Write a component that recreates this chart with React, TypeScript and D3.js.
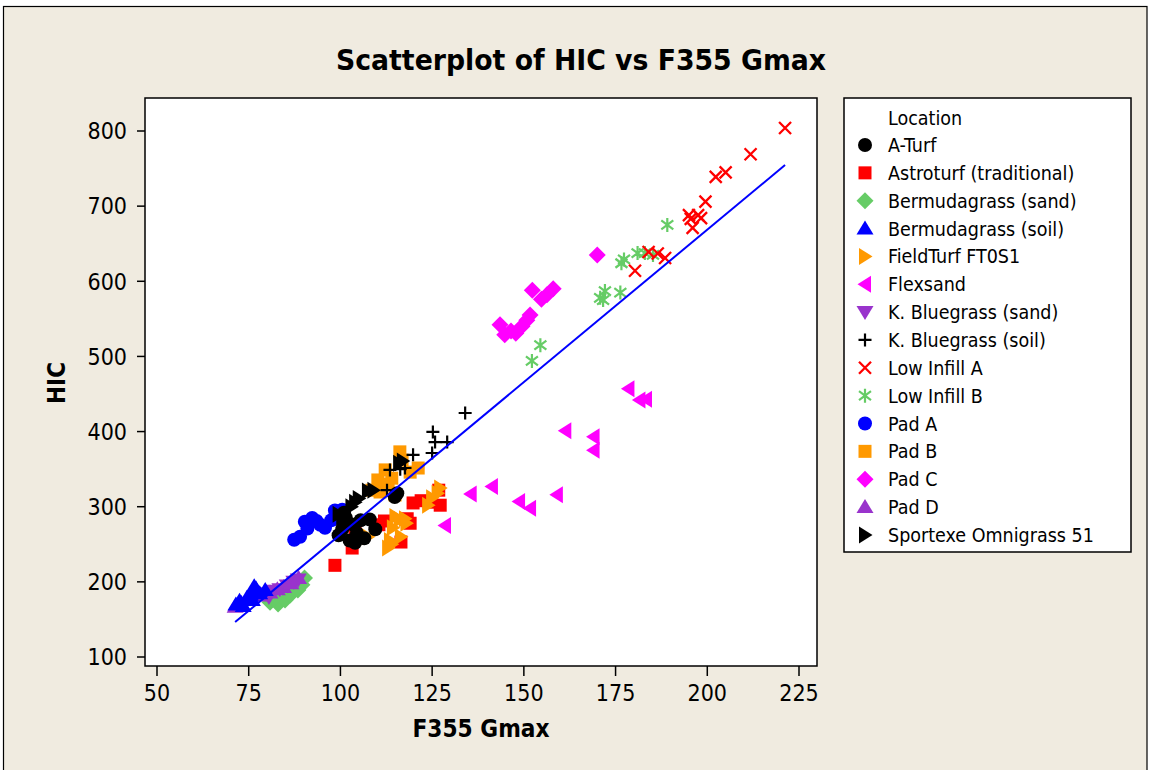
import React from 'react';
import * as d3 from 'd3';

const W = 1150;
const H = 770;

const xTicks = [50, 75, 100, 125, 150, 175, 200, 225];
const yTicks = [100, 200, 300, 400, 500, 600, 700, 800];

// [F355 Gmax, HIC]
const aTurf = [[99.5, 262], [100.5, 270], [101.5, 285], [102.5, 255], [103.5, 276], [104.5, 265], [105.5, 282], [106.5, 258], [108, 283], [109.5, 270], [114.8, 313], [115.5, 318], [101, 292], [104, 252]];
const astroturf = [[98.5, 222], [103.2, 245], [104, 270], [110.5, 276], [112, 281], [116.5, 253], [118.2, 284], [119.8, 305], [122, 308], [124.2, 306], [127.2, 302], [126.8, 322], [119, 278]];
const bermSand = [[80.8, 173], [83, 170.5], [84.9, 176], [86.3, 182.5], [88.4, 189], [89.5, 196], [90.2, 205], [82, 178]];
const bermSoil = [[71.5, 170], [72.5, 175], [73.5, 168], [74.5, 179], [75.5, 183], [76, 176], [77, 191], [78, 185], [79.5, 189], [76.5, 194], [73, 172]];
const fieldTurf = [[107.5, 260], [113, 245], [113.5, 255], [114.3, 272], [115, 287], [116.2, 283], [117.6, 284], [118, 278], [123.9, 302], [125, 312], [127.2, 325], [126.5, 318], [114, 250], [116.5, 260]];
const flexsand = [[128.5, 275], [135.5, 317], [141.3, 327], [148.7, 307], [151.7, 298], [159, 316], [161.3, 401], [169, 393], [169, 375], [178.5, 457], [181.5, 442], [183.3, 443]];
const kbSand = [[79.5, 185], [81.5, 188], [83.5, 190], [85.5, 195], [87.3, 200], [88.5, 203], [80.5, 180]];
const kbSoil = [[112.7, 322], [113.5, 349], [117.6, 351.5], [119.8, 369], [125, 371.5], [125.2, 399.5], [125.8, 386], [129.1, 386], [134, 424.7], [116.3, 350]];
const lowA = [[180.3, 614], [184, 639], [186.5, 637], [188.5, 631], [195, 688], [195.5, 683], [196, 671], [197.5, 688], [198.3, 684], [199.5, 706], [202.3, 739], [205, 745], [211.8, 769], [221.2, 804]];
const lowB = [[152.2, 494], [154.5, 515], [170.8, 578], [171.6, 575], [172.1, 587], [176.3, 585], [176.6, 624], [177.3, 629], [181, 637.5], [183, 637.5], [185.2, 635], [189.1, 675]];
const padA = [[87.4, 256], [89, 260], [90.3, 280], [91, 271], [92.3, 285], [93.5, 281], [94.5, 276], [95.8, 272], [97.5, 282], [98.5, 295], [99.5, 289], [100.5, 296]];
const padB = [[116.2, 373], [121.2, 351.5], [112.2, 349], [110.2, 335.6], [114, 338], [108.6, 322], [114.9, 315.6], [119, 346], [116.8, 362], [110.8, 319.6], [113, 330]];
const padC = [[170, 635], [143.5, 542], [144.8, 529], [146.5, 534], [147.8, 531], [149.5, 540], [150.8, 548], [151.7, 555], [152.3, 588], [154.8, 576], [156.3, 582], [158, 590]];
const padD = [[71.3, 167], [78.8, 182], [80.8, 186], [82.8, 190], [84.5, 193], [86.5, 198], [88.6, 205]];
const sportexe = [[99.5, 290], [100.5, 282], [101.5, 276], [103, 300], [104, 306], [105, 311], [107.5, 321], [109, 322], [116, 358], [117, 361]];

// regression: HIC = intercept + slope * Gmax
const fitCoef = [-142.7, 4.057];
const fitRange = [71.3, 221.2];

const legendNames = [
  'A-Turf', 'Astroturf (traditional)', 'Bermudagrass (sand)', 'Bermudagrass (soil)', 'FieldTurf FT0S1',
  'Flexsand', 'K. Bluegrass (sand)', 'K. Bluegrass (soil)', 'Low Infill A', 'Low Infill B',
  'Pad A', 'Pad B', 'Pad C', 'Pad D', 'Sportexe Omnigrass 51'];

type Shape = 'circle' | 'square' | 'diamond' | 'up' | 'down' | 'right' | 'left' | 'plus' | 'x' | 'star';
const styles: { shape: Shape; color: string }[] = [
  { shape: 'circle', color: '#000000' },
  { shape: 'square', color: '#FF0000' },
  { shape: 'diamond', color: '#66CC66' },
  { shape: 'up', color: '#0000FF' },
  { shape: 'right', color: '#FF9900' },
  { shape: 'left', color: '#FF00FF' },
  { shape: 'down', color: '#9933CC' },
  { shape: 'plus', color: '#000000' },
  { shape: 'x', color: '#FF0000' },
  { shape: 'star', color: '#66CC66' },
  { shape: 'circle', color: '#0000FF' },
  { shape: 'square', color: '#FF9900' },
  { shape: 'diamond', color: '#FF00FF' },
  { shape: 'up', color: '#9933CC' },
  { shape: 'right', color: '#000000' },
];
const seriesData = [aTurf, astroturf, bermSand, bermSoil, fieldTurf, flexsand, kbSand, kbSoil, lowA, lowB, padA, padB, padC, padD, sportexe];
// drawing order (index into series)
const drawOrder = [2, 6, 13, 3, 10, 11, 1, 4, 0, 14, 7, 5, 12, 9, 8];

const FONT = "'DejaVu Sans Condensed', 'DejaVu Sans', sans-serif";

function Marker({ shape, color, x, y }: { shape: Shape; color: string; x: number; y: number }) {
  const t = `translate(${x},${y})`;
  switch (shape) {
    case 'circle':
      return <circle cx={x} cy={y} r={7} fill={color} />;
    case 'square':
      return <path transform={t} d="M-6.5,-6.5H6.5V6.5H-6.5Z" fill={color} />;
    case 'diamond':
      return <path transform={t} d="M0,-8.5L8.5,0L0,8.5L-8.5,0Z" fill={color} />;
    case 'up':
      return <path transform={t} d="M0,-8L8.5,6L-8.5,6Z" fill={color} />;
    case 'down':
      return <path transform={t} d="M0,8L8.5,-6L-8.5,-6Z" fill={color} />;
    case 'right':
      return <path transform={t} d="M7.5,0L-6,-8.5L-6,8.5Z" fill={color} />;
    case 'left':
      return <path transform={t} d="M-7.5,0L6,-8.5L6,8.5Z" fill={color} />;
    case 'plus':
      return <path transform={t} d="M-6.5,0H6.5M0,-6.5V6.5" stroke={color} strokeWidth={2.2} fill="none" />;
    case 'x':
      return <path transform={t} d="M-6,-6L6,6M-6,6L6,-6" stroke={color} strokeWidth={2.3} fill="none" />;
    case 'star':
      return <path transform={t} d="M0,-7V7M-6,-4.5L6,4.5M-6,4.5L6,-4.5" stroke={color} strokeWidth={2.2} fill="none" />;
  }
  return null;
}

export default function App() {
  const plotL = 145, plotR = 817, plotT = 98, plotB = 666;
  const x = d3.scaleLinear().domain([50, 225]).range([157, 799]);
  const y = d3.scaleLinear().domain([100, 800]).range([657, 131]);
  const line = d3.line<number>().x(d => x(d)).y(d => y(fitCoef[0] + fitCoef[1] * d));

  const legL = 844, legT = 98, legR = 1131, legB = 552;
  const rowY = (i: number) => 145 + i * 27.85;

  return (
    <svg width={W} height={H} style={{ position: 'absolute', left: 0, top: 0 }} fontFamily={FONT}>
      <rect x={0} y={0} width={W} height={H} fill="#ffffff" />
      <rect x={3.5} y={6.5} width={1143.5} height={H} fill="#F0EBE0" stroke="#000" strokeWidth={1.2} />
      <text x={581} y={70} textAnchor="middle" fontSize={28} fontWeight="bold" fill="#000" textLength={490} lengthAdjust="spacingAndGlyphs">Scatterplot of HIC vs F355 Gmax</text>

      <rect x={plotL} y={plotT} width={plotR - plotL} height={plotB - plotT} fill="#fff" stroke="#000" strokeWidth={1.5} />

      {xTicks.map(t => (
        <g key={'xt' + t}>
          <line x1={x(t)} x2={x(t)} y1={plotB} y2={plotB + 10} stroke="#000" strokeWidth={1.5} />
          <text x={x(t)} y={701} textAnchor="middle" fontSize={23} fill="#000">{t}</text>
        </g>
      ))}
      {yTicks.map(t => (
        <g key={'yt' + t}>
          <line x1={plotL} x2={plotL - 8} y1={y(t)} y2={y(t)} stroke="#000" strokeWidth={1.5} />
          <text x={127} y={y(t)} dy="0.36em" textAnchor="end" fontSize={23} fill="#000">{t}</text>
        </g>
      ))}
      <text x={481} y={737} textAnchor="middle" fontSize={24} fontWeight="bold" fill="#000" textLength={137} lengthAdjust="spacingAndGlyphs">F355 Gmax</text>
      <text transform={`translate(65,383) rotate(-90)`} textAnchor="middle" fontSize={24} fontWeight="bold" fill="#000">HIC</text>

      <g>
        {drawOrder.map(si => (
          <g key={'s' + si}>
            {seriesData[si].map((d, j) => (
              <Marker key={j} shape={styles[si].shape} color={styles[si].color} x={x(d[0])} y={y(d[1])} />
            ))}
          </g>
        ))}
      </g>
      <path d={line(fitRange) || ''} stroke="#0000FF" strokeWidth={2} fill="none" />

      <rect x={legL} y={legT} width={legR - legL} height={legB - legT} fill="#fff" stroke="#000" strokeWidth={1.5} />
      <text x={888} y={118} dy="0.36em" fontSize={19.5} fill="#000">Location</text>
      {legendNames.map((n, i) => (
        <g key={'l' + i}>
          <Marker shape={styles[i].shape} color={styles[i].color} x={865} y={rowY(i)} />
          <text x={888} y={rowY(i)} dy="0.36em" fontSize={19.5} fill="#000">{n}</text>
        </g>
      ))}
    </svg>
  );
}
